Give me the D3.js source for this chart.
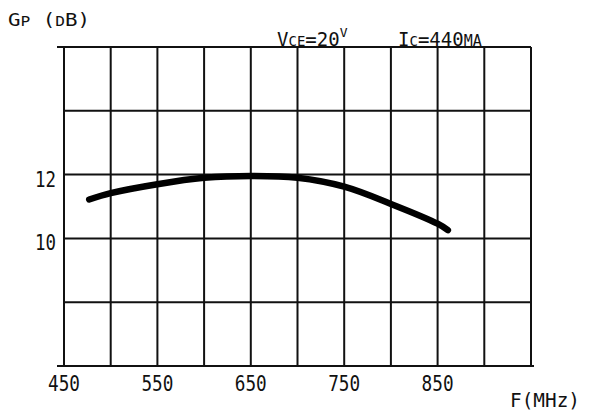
<!DOCTYPE html>
<html>
<head>
<meta charset="utf-8">
<script src="https://cdn.jsdelivr.net/npm/d3@7"></script>
<style>
  body { margin: 0; background: #fff; }
  text { font-family: "DejaVu Sans Mono", monospace; fill: #111; }
</style>
</head>
<body>
<div id="chart"></div>
<script>
// chart values
const freq = [477, 500, 550, 600, 650, 700, 750, 800, 850, 861];
const gain = [11.22, 11.42, 11.70, 11.90, 11.96, 11.90, 11.62, 11.08, 10.46, 10.26];
const xTickLabels = [450, 550, 650, 750, 850];
const yTickLabels = [10, 12];
const xGrid = d3.range(450, 951, 50);
const yGrid = d3.range(6, 17, 2);

const width = 590, height = 414;

const svg = d3.select("#chart").append("svg")
    .attr("width", width)
    .attr("height", height);

const x = d3.scaleLinear().domain([450, 950]).range([64, 531]);
const y = d3.scaleLinear().domain([6, 16]).range([366, 47]);

// grid
svg.append("g").selectAll("line")
    .data(xGrid)
    .enter().append("line")
    .attr("x1", d => x(d)).attr("x2", d => x(d))
    .attr("y1", y(16)).attr("y2", y(6))
    .attr("stroke", "#111").attr("stroke-width", 2);

svg.append("g").selectAll("line")
    .data(yGrid)
    .enter().append("line")
    .attr("x1", d => (d == 6 || d == 16) ? x(450) - 7 : x(450))
    .attr("x2", d => d == 6 ? x(950) + 3 : x(950))
    .attr("y1", d => y(d)).attr("y2", d => y(d))
    .attr("stroke", "#111").attr("stroke-width", 2);

// curve
const line = d3.line()
    .x((d, i) => x(freq[i]))
    .y(d => y(d))
    .curve(d3.curveCatmullRom);

svg.append("path")
    .datum(gain)
    .attr("d", line)
    .attr("fill", "none")
    .attr("stroke", "#000")
    .attr("stroke-width", 6.5)
    .attr("stroke-linecap", "round");

// tick labels
svg.append("g").selectAll("text")
    .data(xTickLabels)
    .enter().append("text")
    .attr("x", d => x(d) - 16)
    .attr("y", 391)
    .attr("font-size", 22)
    .attr("textLength", 32)
    .attr("lengthAdjust", "spacingAndGlyphs")
    .text(d => d);

svg.append("g").selectAll("text")
    .data(yTickLabels)
    .enter().append("text")
    .attr("x", 35)
    .attr("y", d => y(d) + 12)
    .attr("font-size", 22)
    .attr("textLength", 21)
    .attr("lengthAdjust", "spacingAndGlyphs")
    .text(d => d);

// axis titles
const yTitle = svg.append("text")
    .attr("x", 8).attr("y", 26)
    .attr("font-size", 18)
    .attr("textLength", 82)
    .attr("lengthAdjust", "spacingAndGlyphs");
yTitle.append("tspan").text("G");
yTitle.append("tspan").attr("font-size", 14).text("P");
yTitle.append("tspan").text(" (");
yTitle.append("tspan").attr("font-size", 14).text("D");
yTitle.append("tspan").text("B)");

svg.append("text")
    .attr("x", 510).attr("y", 407)
    .attr("font-size", 19)
    .attr("textLength", 70)
    .attr("lengthAdjust", "spacingAndGlyphs")
    .text("F(MHz)");

// conditions
const vce = svg.append("text")
    .attr("x", 277).attr("y", 46)
    .attr("font-size", 19);
vce.append("tspan").text("V");
vce.append("tspan").attr("font-size", 14).text("CE");
vce.append("tspan").text("=20");
vce.append("tspan").attr("font-size", 13).attr("dy", -9).text("V");

const ic = svg.append("text")
    .attr("x", 398).attr("y", 46)
    .attr("font-size", 19);
ic.append("tspan").text("I");
ic.append("tspan").attr("font-size", 14).text("C");
ic.append("tspan").text("=440");
ic.append("tspan").attr("font-size", 15).text("MA");
</script>
</body>
</html>
